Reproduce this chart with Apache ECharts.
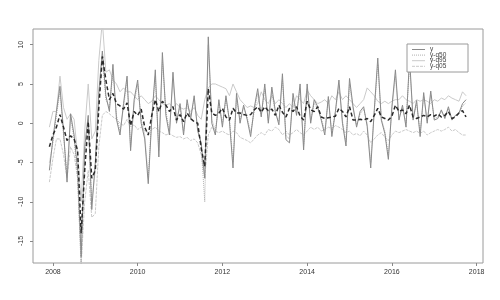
<!DOCTYPE html>
<html>
<head>
<meta charset="utf-8">
<script src="https://cdn.jsdelivr.net/npm/echarts@6/dist/echarts.min.js"></script>
<style>
  html, body { margin: 0; padding: 0; background: #fff; }
  #chart { width: 500px; height: 300px; }
</style>
</head>
<body>
<div id="chart"></div>
<script>
// monthly series, first month is Dec 2007
var startYear = 2007, startMonth = 12;

var yVals = [-6.0,-2.0,1.5,4.7,-1.0,-7.5,1.2,-1.5,-6.0,-17.0,
    -3.0,1.0,-11.0,-5.0,4.0,9.2,3.5,1.5,7.5,0.5,
    -1.5,2.5,6.0,-3.5,3.0,5.5,0.0,-2.0,-7.7,0.5,
    6.8,-4.3,9.0,1.0,-1.5,6.5,0.0,2.5,-1.5,3.0,
    0.5,3.5,-1.0,-2.5,-7.0,11.0,0.0,-1.5,3.0,-0.5,
    3.5,0.2,-5.7,3.8,0.0,2.3,0.5,-1.7,1.9,4.4,
    0.8,5.0,0.0,4.6,1.5,-0.2,6.3,-2.1,-2.5,3.8,
    1.0,5.0,-3.4,5.0,0.0,3.0,2.1,0.4,-1.5,3.4,
    -1.7,1.5,5.5,0.0,-2.9,5.7,2.1,-0.5,1.5,2.1,
    -0.4,-5.7,1.6,8.3,0.4,-1.3,-4.6,2.1,6.8,0.4,
    2.3,-0.5,8.3,0.4,2.9,-1.7,3.9,0.0,4.1,0.4,
    0.6,1.7,0.6,2.1,0.4,1.0,1.3,2.5,3.0];

var q50Vals = [-5.0,-2.5,1.0,4.0,-1.5,-6.5,0.8,-2.0,-7.0,-18.5,
    -4.0,0.5,-10.0,-6.0,3.0,8.5,3.0,2.0,6.5,1.0,
    -1.0,2.0,5.5,-3.0,2.5,5.0,0.5,-1.5,-7.0,1.0,
    6.0,-3.5,8.0,1.5,-1.0,5.5,0.5,2.0,-1.0,2.5,
    1.0,3.0,-0.5,-3.0,-10.0,10.0,0.5,-1.0,2.5,0.0,
    3.0,0.5,-5.0,3.2,0.5,2.0,0.8,-1.2,1.5,3.8,
    1.0,4.4,0.3,4.0,1.2,0.2,5.6,-1.6,-2.0,3.2,
    1.2,4.4,-2.8,4.5,0.4,2.6,1.8,0.6,-1.0,3.0,
    -1.2,1.4,4.8,0.3,-2.4,5.0,1.8,-0.2,1.2,1.8,
    0.0,-5.0,1.4,7.5,0.6,-1.0,-4.0,1.8,6.0,0.6,
    2.0,0.0,7.5,0.6,2.5,-1.2,3.4,0.3,3.6,0.6,
    0.8,1.5,0.8,1.8,0.6,1.0,1.2,2.2,2.6];

var q95Vals = [-0.5,1.5,1.5,6.0,2.0,0.5,1.2,0.5,-4.0,-10.0,
    -1.0,5.0,-2.0,-1.0,8.0,13.0,6.5,6.8,5.5,5.0,
    4.0,4.5,4.0,4.0,3.5,3.0,3.5,3.0,2.5,2.8,
    3.5,3.0,2.5,2.3,2.5,2.0,2.5,2.0,1.8,2.0,
    1.5,2.0,1.0,0.5,3.0,4.5,5.0,5.0,4.8,4.6,
    4.4,3.5,5.0,4.0,3.0,2.5,2.0,2.2,2.0,2.5,
    4.0,3.0,2.5,3.5,2.5,3.0,2.5,2.0,2.5,2.0,
    3.5,3.0,2.5,4.2,3.5,3.0,2.5,2.7,3.0,2.5,
    3.5,3.0,4.0,3.0,3.5,3.0,2.5,2.0,2.5,3.0,
    4.5,4.0,3.5,2.8,2.5,2.8,2.5,2.8,3.0,3.0,
    3.5,3.0,2.8,2.5,3.0,2.8,3.0,2.8,2.5,3.0,
    2.8,3.2,3.0,3.5,3.2,3.0,2.8,4.0,3.5];

var q05Vals = [-7.5,-4.5,-2.0,-2.0,-4.0,-7.0,-3.0,-4.0,-7.0,-18.0,
    -10.0,-6.0,-12.0,-11.5,-3.0,1.0,1.5,1.2,0.8,0.5,
    0.0,-0.3,0.5,-0.5,-0.2,-0.8,-0.5,-1.0,-1.2,-0.8,
    -0.5,-1.0,-1.2,-1.5,-1.3,-1.6,-1.8,-1.7,-2.0,-1.8,
    -2.2,-2.0,-2.5,-4.0,-7.0,-1.5,-0.5,-1.0,-1.2,-1.0,
    -1.3,-1.5,-1.0,-1.2,-1.8,-2.0,-2.2,-2.5,-2.0,-1.5,
    -1.2,-1.5,-0.8,-1.0,-0.5,-0.8,-1.5,-1.0,-1.5,-1.2,
    -0.8,-1.2,-1.5,-1.0,-0.5,-0.8,-0.5,-1.0,-0.8,-0.5,
    -0.7,-0.3,-0.5,-0.8,-1.2,-1.0,-1.5,-1.3,-1.6,-1.0,
    -1.5,-2.5,-2.0,-1.5,-1.2,-1.8,-2.2,-1.5,-1.0,-1.2,
    -1.0,-0.8,-1.0,-1.2,-1.0,-1.3,-1.0,-1.5,-1.2,-1.0,
    -0.8,-1.0,-0.8,-0.5,-1.0,-0.8,-1.2,-1.5,-1.5];

// the thick dashed fitted line (not in the legend)
var fitVals = [-3.0,-1.5,-0.5,1.1,-0.5,-2.2,-1.6,-2.0,-3.5,-14.0,
    -6.0,0.2,-7.0,-6.0,2.0,8.5,5.5,3.0,3.8,2.5,
    2.2,1.8,2.6,-0.3,1.5,1.0,1.8,-0.5,-1.5,1.0,
    3.0,1.5,2.8,2.3,1.5,2.1,0.4,1.1,0.2,1.3,
    0.6,0.2,0.0,-3.2,-5.5,4.4,1.3,1.0,1.3,1.9,
    0.8,0.4,1.9,1.3,1.3,1.1,1.0,1.1,1.7,2.1,
    1.4,2.1,1.6,1.8,1.0,2.3,1.4,0.8,1.9,1.5,
    2.1,0.9,0.4,2.8,1.7,1.5,2.1,0.8,0.6,0.7,
    0.8,0.9,1.9,1.5,0.8,2.1,0.4,0.4,0.5,0.4,
    0.6,0.2,1.0,1.9,0.8,0.6,0.4,0.9,2.3,1.5,
    1.7,1.2,2.3,0.8,0.6,0.8,1.0,0.8,1.1,0.9,
    1.2,0.8,1.0,1.5,0.6,0.8,1.3,1.6,0.8];

var xTicks = [2008, 2010, 2012, 2014, 2016, 2018];
var yTicks = [-15, -10, -5, 0, 5, 10];
var legendNames = ['y', 'y-q50', 'y-q95', 'y-q05'];

function toPairs(vals) {
    var out = [];
    for (var i = 0; i < vals.length; i++) {
        // decimal year of the month start
        out.push([startYear + (startMonth - 1 + i) / 12, vals[i]]);
    }
    return out;
}

var chart = echarts.init(document.getElementById('chart'));

var font = 'Liberation Sans, Arial, sans-serif';

var styles = {
    'y': { color: '#8a8a8a', width: 1, type: 'solid' },
    'y-q50': { color: '#b0b0b0', width: 1, type: [1, 1] },
    'y-q95': { color: '#cacaca', width: 1, type: 'solid' },
    'y-q05': { color: '#cacaca', width: 1, type: [3, 1] }
};

// legend drawn by hand, R style box
var legendGraphic = [{
    type: 'rect',
    shape: { x: 407, y: 44, width: 61, height: 28 },
    style: { fill: '#fff', stroke: '#9a9a9a', lineWidth: 1 },
    z: 100
}];
legendNames.forEach(function (name, k) {
    var cy = 49.5 + k * 5.6;
    var s = styles[name];
    legendGraphic.push({
        type: 'line',
        shape: { x1: 412, y1: cy, x2: 425, y2: cy },
        style: { stroke: s.color, lineWidth: 1, lineDash: s.type === 'solid' ? null : s.type },
        z: 101
    });
    legendGraphic.push({
        type: 'text',
        x: 430, y: cy,
        style: { text: name, fontSize: 6.5, fontFamily: font, fill: '#444', verticalAlign: 'middle' },
        z: 101
    });
});

function lineSeries(name, vals, z) {
    var s = styles[name];
    return {
        name: name, type: 'line', data: toPairs(vals), symbol: 'none',
        lineStyle: { color: s.color, width: s.width, type: s.type }, z: z
    };
}

option = {
    animation: false,
    backgroundColor: '#fff',
    grid: {
        left: 33, right: 17, top: 29, bottom: 37,
        show: true, borderColor: '#9a9a9a', borderWidth: 1
    },
    graphic: legendGraphic,
    xAxis: {
        type: 'value',
        min: 2007.53, max: 2018.15,
        axisLine: { show: false, onZero: false },
        splitLine: { show: false },
        axisTick: { show: true, inside: false, length: 3, lineStyle: { color: '#888' }, customValues: xTicks },
        axisLabel: {
            customValues: xTicks, fontSize: 7, color: '#333', fontFamily: font, margin: 6,
            formatter: function (v) { return String(v); }
        }
    },
    yAxis: {
        type: 'value',
        min: -17.8, max: 12.0,
        axisLine: { show: false, onZero: false },
        splitLine: { show: false },
        axisTick: { show: true, inside: false, length: 3, lineStyle: { color: '#888' }, customValues: yTicks },
        axisLabel: {
            customValues: yTicks, fontSize: 7, color: '#333', fontFamily: font, rotate: 90, margin: 8,
            formatter: function (v) { return String(v); }
        }
    },
    series: [
        lineSeries('y-q95', q95Vals, 1),
        lineSeries('y-q05', q05Vals, 1),
        lineSeries('y-q50', q50Vals, 2),
        lineSeries('y', yVals, 3),
        {
            name: 'fit', type: 'line', data: toPairs(fitVals), symbol: 'none',
            lineStyle: { color: '#2a2a2a', width: 1.5, type: [4, 2.5] }, z: 4
        }
    ]
};

chart.setOption(option);
</script>
</body>
</html>
